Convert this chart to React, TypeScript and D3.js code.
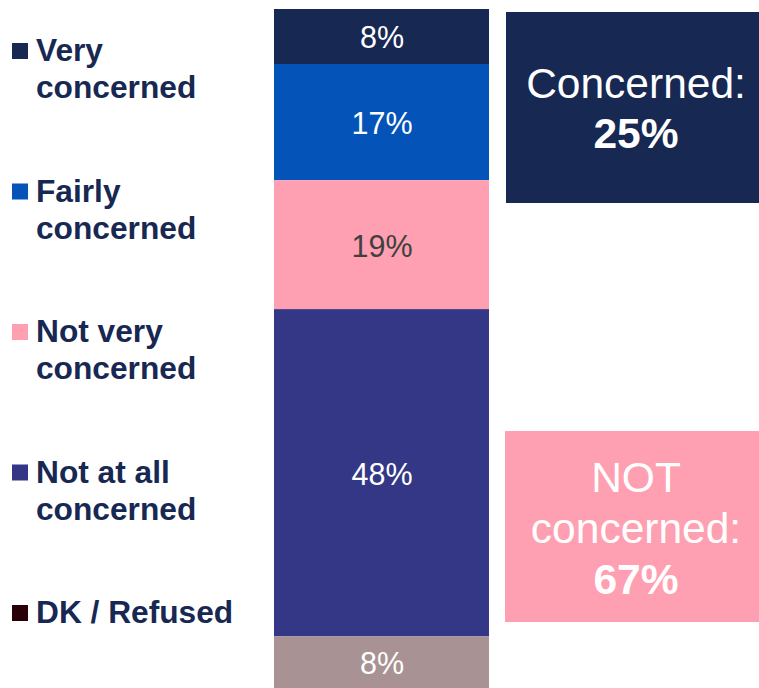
import React from "react";
import * as d3 from "d3";

const categories = ["Very concerned", "Fairly concerned", "Not very concerned", "Not at all concerned", "DK / Refused"];
const legendLines = [["Very", "concerned"], ["Fairly", "concerned"], ["Not very", "concerned"], ["Not at all", "concerned"], ["DK / Refused"]];
const values = [8.1, 17.1, 19.0, 48.2, 7.6];
const valueLabels = ["8%", "17%", "19%", "48%", "8%"];
const barColors = ["#172853", "#0353B8", "#FF9FB2", "#333785", "#A89294"];
const legendColors = ["#172853", "#0353B8", "#FF9FB2", "#333785", "#2A0008"];
const labelColors = ["#FFFFFF", "#FFFFFF", "#404040", "#FFFFFF", "#FFFFFF"];
const summaryLines = [["Concerned:"], ["NOT", "concerned:"]];
const summaryValues = ["25%", "67%"];
const summaryColors = ["#172853", "#FF9FB2"];

const W = 759;
const H = 688;
const FONT = "'Liberation Sans', Arial, sans-serif";

export default function App() {
  const total = d3.sum(values);
  const y = d3.scaleLinear().domain([0, total]).range([9, 688]);
  const x0 = 274, x1 = 489;
  let acc = 0;
  const segs = values.map((v, i) => {
    const s = { i, y0: y(acc), y1: y(acc + v) };
    acc += v;
    return s;
  });
  const legendY = d3.scaleLinear().domain([0, 4]).range([61, 623]);

  return (
    <div style={{ position: "fixed", left: 0, top: 0, width: W, height: H, background: "#fff" }}>
      <svg width={W} height={H} style={{ display: "block" }} fontFamily={FONT}>
        {segs.map((s) => (
          <g key={s.i}>
            <rect x={x0} y={s.y0} width={x1 - x0} height={s.y1 - s.y0} fill={barColors[s.i]} />
            <text
              x={(x0 + x1) / 2 + 0.5}
              y={(s.y0 + s.y1) / 2 + 12}
              textAnchor="middle"
              fontSize={30.5}
              fill={labelColors[s.i]}
            >
              {valueLabels[s.i]}
            </text>
          </g>
        ))}
        {categories.map((c, i) => {
          const by = legendY(i);
          return (
            <g key={c}>
              <rect x={12} y={by - 18} width={16} height={16} fill={legendColors[i]} />
              {legendLines[i].map((ln, j) => (
                <text key={j} x={36} y={by + j * 37} fontSize={31.7} fontWeight="bold" fill="#172853">
                  {ln}
                </text>
              ))}
            </g>
          );
        })}
        {/* Summary boxes */}
        <rect x={506} y={12} width={260} height={191} fill={summaryColors[0]} />
        <text x={636} y={98} textAnchor="middle" fontSize={42.5} fill="#fff">{summaryLines[0][0]}</text>
        <text x={636} y={148} textAnchor="middle" fontSize={42.5} fontWeight="bold" fill="#fff">{summaryValues[0]}</text>

        <rect x={505} y={431} width={261} height={191} fill={summaryColors[1]} />
        {summaryLines[1].map((ln, j) => (
          <text key={j} x={636} y={492 + j * 51} textAnchor="middle" fontSize={42.5} fill="#fff">{ln}</text>
        ))}
        <text x={636} y={594} textAnchor="middle" fontSize={42.5} fontWeight="bold" fill="#fff">{summaryValues[1]}</text>
      </svg>
    </div>
  );
}
